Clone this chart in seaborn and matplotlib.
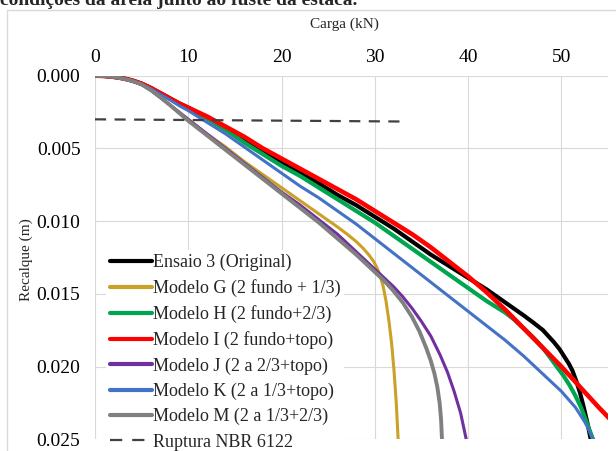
import matplotlib
matplotlib.use("Agg")
import matplotlib.pyplot as plt
from matplotlib.patches import Rectangle
import seaborn as sns
import pandas as pd

# Load (kN) and settlement (m) for each model
ensaio_x = [0, 1, 2, 3, 4, 5, 6, 7, 8, 9, 10, 12, 14, 16, 18, 20, 22, 24, 26, 28, 30, 32, 34, 36, 38, 40,
            42, 44, 45, 46, 47, 48, 48.6, 49.2, 49.8, 50.3, 50.8, 51.2, 51.6, 52.0, 52.4, 52.8, 53.15]
ensaio_y = [0, 0.00002, 0.00008, 0.00018, 0.00033, 0.00055, 0.00085, 0.0012, 0.00155, 0.0019, 0.0022,
            0.0029, 0.0037, 0.0045, 0.0052, 0.0060, 0.0067, 0.0074, 0.0082, 0.0089, 0.0097, 0.0105,
            0.0114, 0.0123, 0.0131, 0.0139, 0.0147, 0.0156, 0.01605, 0.0165, 0.01698, 0.01748, 0.0179,
            0.01832, 0.0188, 0.0193, 0.0198, 0.0203, 0.0210, 0.0218, 0.0228, 0.0239, 0.0250]

g_x = [0, 1, 2, 3, 4, 5, 6, 7, 8, 9, 10, 12, 14, 16, 18, 20, 22, 24, 26, 27, 28, 28.8, 29.4, 29.9,
       30.3, 30.6, 30.9, 31.2, 31.5, 31.8, 32.05, 32.3, 32.5]
g_y = [0, 0.00002, 0.00008, 0.0002, 0.00037, 0.0006, 0.0010, 0.0015, 0.0020, 0.0025, 0.0030, 0.0040,
       0.0049, 0.0059, 0.0068, 0.0077, 0.0086, 0.0095, 0.0104, 0.01088, 0.0114, 0.0119, 0.01235,
       0.0128, 0.0133, 0.0138, 0.0145, 0.0155, 0.0168, 0.0184, 0.0202, 0.0225, 0.0250]

h_x = [0, 1, 2, 3, 4, 5, 6, 7, 8, 9, 10, 12, 14, 16, 18, 20, 22, 24, 26, 28, 30, 32, 34, 36, 38, 40,
       42, 44, 45, 46, 47, 48, 48.7, 49.5, 50.2, 50.9, 51.5, 52.1, 52.7, 53.1, 53.4]
h_y = [0, 0.00002, 0.00008, 0.00018, 0.00033, 0.00055, 0.00085, 0.0012, 0.00155, 0.0019, 0.0022,
       0.0029, 0.0037, 0.0046, 0.0054, 0.0062, 0.0069, 0.0077, 0.0085, 0.0093, 0.0101, 0.0110,
       0.0119, 0.0128, 0.0137, 0.0146, 0.0155, 0.0163, 0.0168, 0.0174, 0.0180, 0.0187, 0.0193,
       0.0200, 0.0206, 0.0213, 0.0220, 0.0228, 0.0238, 0.0245, 0.0250]

i_x = [0, 1, 2, 3, 4, 5, 6, 7, 8, 9, 10, 12, 14, 16, 18, 20, 22, 24, 26, 28, 30, 32, 34, 36, 38, 40,
       42, 44, 46, 48, 50, 52, 54, 55.2]
i_y = [0, 0.00002, 0.00008, 0.00018, 0.00033, 0.00055, 0.00085, 0.0012, 0.00155, 0.0019, 0.0022,
       0.0028, 0.0035, 0.0042, 0.0050, 0.0057, 0.0064, 0.0071, 0.0078, 0.0085, 0.0093, 0.0101,
       0.0109, 0.0118, 0.0128, 0.0138, 0.0149, 0.0161, 0.0174, 0.0187, 0.0200, 0.0214, 0.0228, 0.0236]

j_x = [0, 1, 2, 3, 4, 5, 6, 7, 8, 9, 10, 12, 14, 16, 18, 20, 22, 24, 26, 28, 29, 30, 31, 32, 33, 34,
       35, 36, 37, 37.8, 38.5, 39.2, 39.8]
j_y = [0, 0.00002, 0.00008, 0.0002, 0.00037, 0.0006, 0.0010, 0.0015, 0.0020, 0.0025, 0.0030, 0.0040,
       0.0050, 0.0060, 0.0070, 0.0080, 0.0089, 0.0099, 0.0109, 0.0121, 0.0127, 0.0133, 0.0139,
       0.0145, 0.0152, 0.0160, 0.0169, 0.0179, 0.0192, 0.0204, 0.0217, 0.0232, 0.0250]

k_x = [0, 1, 2, 3, 4, 5, 6, 7, 8, 9, 10, 12, 14, 16, 18, 20, 22, 24, 26, 28, 30, 32, 34, 36, 38, 40,
       42, 44, 46, 48, 50, 51.5, 52.5, 53.0, 53.4]
k_y = [0, 0.00002, 0.00008, 0.00018, 0.00034, 0.00058, 0.0009, 0.00128, 0.00165, 0.00205, 0.0024,
       0.0032, 0.0040, 0.0049, 0.0058, 0.0067, 0.0076, 0.0084, 0.0093, 0.0102, 0.0112, 0.0122,
       0.0132, 0.0142, 0.0152, 0.0162, 0.0172, 0.0182, 0.0193, 0.0205, 0.0217, 0.0228, 0.0238,
       0.0244, 0.0250]

m_x = [0, 1, 2, 3, 4, 5, 6, 7, 8, 9, 10, 12, 14, 16, 18, 20, 22, 24, 26, 28, 29, 30, 31, 32, 33, 34,
       34.8, 35.5, 36.0, 36.4, 36.7, 36.95, 37.1, 37.2]
m_y = [0, 0.00002, 0.00008, 0.0002, 0.00037, 0.0006, 0.0010, 0.00148, 0.0020, 0.00255, 0.0031, 0.0041,
       0.0051, 0.0061, 0.0071, 0.0081, 0.0091, 0.0101, 0.0112, 0.0123, 0.0129, 0.0135, 0.0141,
       0.0148, 0.0156, 0.0166, 0.0176, 0.0187, 0.0196, 0.0205, 0.0214, 0.0225, 0.0236, 0.0250]

ruptura_x = [0, 33]
ruptura_y = [0.0030, 0.00315]

x_ticks = [0, 10, 20, 30, 40, 50]
y_ticks = [0.000, 0.005, 0.010, 0.015, 0.020, 0.025]

series = [
    ("Ensaio 3 (Original)", ensaio_x, ensaio_y, "#000000", 3.0),
    ("Modelo G (2 fundo + 1/3)", g_x, g_y, "#C9A227", 2.2),
    ("Modelo H (2 fundo+2/3)", h_x, h_y, "#00A550", 3.0),
    ("Modelo I (2 fundo+topo)", i_x, i_y, "#FF0000", 3.3),
    ("Modelo J (2 a 2/3+topo)", j_x, j_y, "#7030A0", 2.2),
    ("Modelo K (2 a 1/3+topo)", k_x, k_y, "#4472C4", 2.2),
    ("Modelo M (2 a 1/3+2/3)", m_x, m_y, "#808080", 2.8),
]

sns.set_theme(style="white")
plt.rcParams["font.family"] = ["Liberation Serif", "DejaVu Serif"]

W, H = 616, 451
fig = plt.figure(figsize=(W / 100, H / 100), dpi=100)
ax = fig.add_axes([95 / W, 1 - 439.3 / H, (608 - 95) / W, (439.3 - 75.7) / H])

for name, xs, ys, color, lw in series:
    df = pd.DataFrame({"carga": xs, "recalque": ys})
    sns.lineplot(data=df, x="carga", y="recalque", color=color, lw=lw, label=name,
                 ax=ax, sort=False, estimator=None)
    ax.lines[-1].set_solid_joinstyle("round")

df_r = pd.DataFrame({"carga": ruptura_x, "recalque": ruptura_y})
sns.lineplot(data=df_r, x="carga", y="recalque", color="#404040", lw=1.6, label="Ruptura NBR 6122",
             ax=ax, sort=False, estimator=None)
ax.lines[-1].set_dashes([5, 3.8])

ax.set_xlim(0, 55)
ax.set_ylim(0.025, 0)
ax.set_xticks(x_ticks)
ax.set_yticks(y_ticks)
ax.set_yticklabels([f"{v:.3f}" for v in y_ticks])
ax.xaxis.tick_top()
ax.tick_params(axis="x", length=0, pad=7, labelsize=14, colors="#000000")
ax.tick_params(axis="y", length=0, pad=10.5, labelsize=14, colors="#000000")
ax.set_xlabel("")
ax.set_ylabel("")
for s in ax.spines.values():
    s.set_visible(False)
ax.grid(True, color="#D9D9D9", lw=0.8)
ax.set_axisbelow(True)

leg = ax.legend(loc="upper left", bbox_to_anchor=(106 / W, 1 - 250 / H), bbox_transform=fig.transFigure,
                fontsize=13, frameon=True, facecolor="white", edgecolor="none", framealpha=1,
                borderpad=0.2, handlelength=2.35, handletextpad=0.05, labelspacing=0.45,
                borderaxespad=0)
for ln in leg.get_lines()[:-1]:
    ln.set_linewidth(3.0)
leg.get_lines()[-1].set_dashes([5.5, 4.5])

fig.text(344 / W, 1 - 24 / H, "Carga (kN)", ha="center", va="center", fontsize=11)
fig.text(26 / W, 1 - 260 / H, "Recalque (m)", rotation=90, ha="center", va="center", fontsize=11)

# page text above the chart
fig.text(0.0, 1 - 5 / H, "condições da areia junto ao fuste da estaca.", ha="left", va="baseline",
         fontsize=14, fontweight="bold")

# chart-area border
fig.patches.append(Rectangle((7 / W, -0.2), 2, 1.2 - 10 / H, transform=fig.transFigure,
                             fill=False, edgecolor="#D9D9D9", lw=1))

fig.savefig("out.png", dpi=100)
